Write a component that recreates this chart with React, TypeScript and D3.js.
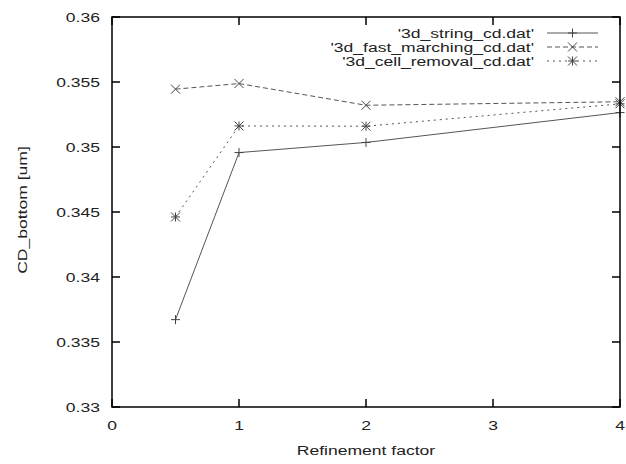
import React, { useEffect, useRef } from 'react';
import * as d3 from 'd3';

const refinement = [0.5, 1, 2, 4];
const stringCd = [0.33672, 0.34957, 0.35035, 0.35265];
const fastMarchingCd = [0.35445, 0.35488, 0.35321, 0.35348];
const cellRemovalCd = [0.34462, 0.35162, 0.35160, 0.35332];
const seriesNames = ["'3d_string_cd.dat'", "'3d_fast_marching_cd.dat'", "'3d_cell_removal_cd.dat'"];
const xTicks = [0, 1, 2, 3, 4];
const yTicks = [0.33, 0.335, 0.34, 0.345, 0.35, 0.355, 0.36];

const App: React.FC = () => {
  const svgRef = useRef<SVGSVGElement>(null);

  useEffect(() => {
    if (!svgRef.current) return;
    const svg = d3.select(svgRef.current);
    svg.selectAll('*').remove();

    const width = 626;
    const height = 464;
    const left = 112, right = 620, top = 17, bottom = 407;
    const font = 'Arial, "Liberation Sans", sans-serif';
    const fs = 13.5;
    const sx = 1.3; // the reference glyphs are stretched sideways

    const x = d3.scaleLinear().domain([0, 4]).range([left, right]);
    const y = d3.scaleLinear().domain([0.33, 0.36]).range([bottom, top]);

    svg.append('rect').attr('width', width).attr('height', height).attr('fill', '#fff');

    const label = (tx: number, ty: number, txt: string, anchor: string, rot = 0) => {
      svg.append('g').attr('transform', `translate(${tx},${ty}) rotate(${rot}) scale(${sx},1)`)
        .append('text').attr('dy', '0.35em').attr('text-anchor', anchor)
        .attr('font-family', font).attr('font-size', fs).attr('fill', '#222')
        .text(txt);
    };

    // ticks (mirrored, inward)
    const tickLen = 8;
    const ticks = svg.append('g').attr('stroke', '#000').attr('stroke-width', 1.5);
    xTicks.forEach(t => {
      ticks.append('line').attr('x1', x(t)).attr('x2', x(t)).attr('y1', bottom).attr('y2', bottom - tickLen);
      ticks.append('line').attr('x1', x(t)).attr('x2', x(t)).attr('y1', top).attr('y2', top + tickLen);
    });
    yTicks.forEach(t => {
      ticks.append('line').attr('x1', left).attr('x2', left + tickLen).attr('y1', y(t)).attr('y2', y(t));
      ticks.append('line').attr('x1', right).attr('x2', right - tickLen).attr('y1', y(t)).attr('y2', y(t));
    });

    // tick labels
    yTicks.forEach(t => label(left - 12, y(t), String(+t.toFixed(3)), 'end'));
    xTicks.forEach(t => label(x(t), bottom + 18, String(t), 'middle'));

    // axis titles
    label((left + right) / 2, 450, 'Refinement factor', 'middle');
    label(22, (top + bottom) / 2 - 2, 'CD_bottom [um]', 'middle', -90);

    const series = [
      { values: stringCd, dash: null, marker: 'plus' },
      { values: fastMarchingCd, dash: '5,3', marker: 'cross' },
      { values: cellRemovalCd, dash: '2,4', marker: 'star' },
    ];

    const line = d3.line<[number, number]>().x(d => x(d[0])).y(d => y(d[1]));
    const m = 4.5;

    const drawMarker = (g: d3.Selection<SVGGElement, unknown, null, undefined>, cx: number, cy: number, kind: string) => {
      if (kind === 'plus' || kind === 'star') {
        g.append('line').attr('x1', cx - m).attr('x2', cx + m).attr('y1', cy).attr('y2', cy);
        g.append('line').attr('x1', cx).attr('x2', cx).attr('y1', cy - m).attr('y2', cy + m);
      }
      if (kind === 'cross' || kind === 'star') {
        g.append('line').attr('x1', cx - m).attr('x2', cx + m).attr('y1', cy - m).attr('y2', cy + m);
        g.append('line').attr('x1', cx - m).attr('x2', cx + m).attr('y1', cy + m).attr('y2', cy - m);
      }
    };

    series.forEach(s => {
      const pts = refinement.map((r, i) => [r, s.values[i]] as [number, number]);
      svg.append('path').attr('d', line(pts)).attr('fill', 'none')
        .attr('stroke', '#555').attr('stroke-width', 1)
        .attr('stroke-dasharray', s.dash);
      const mg = svg.append('g').attr('stroke', '#444').attr('stroke-width', 1);
      pts.forEach(p => drawMarker(mg, x(p[0]), y(p[1]), s.marker));
    });

    // legend
    const legendY = [33, 47, 61];
    seriesNames.forEach((name, i) => {
      label(534, legendY[i], name, 'end');
      svg.append('line').attr('x1', 547).attr('x2', 598).attr('y1', legendY[i]).attr('y2', legendY[i])
        .attr('stroke', '#555').attr('stroke-width', 1).attr('stroke-dasharray', series[i].dash);
      const mg = svg.append('g').attr('stroke', '#444').attr('stroke-width', 1);
      drawMarker(mg, 572.5, legendY[i], series[i].marker);
    });

    // frame
    svg.append('rect').attr('x', left).attr('y', top).attr('width', right - left).attr('height', bottom - top)
      .attr('fill', 'none').attr('stroke', '#000').attr('stroke-width', 1.5);
  }, []);

  return <svg ref={svgRef} width={626} height={464} style={{ position: 'absolute', left: 0, top: 0 }} />;
};

export default App;
